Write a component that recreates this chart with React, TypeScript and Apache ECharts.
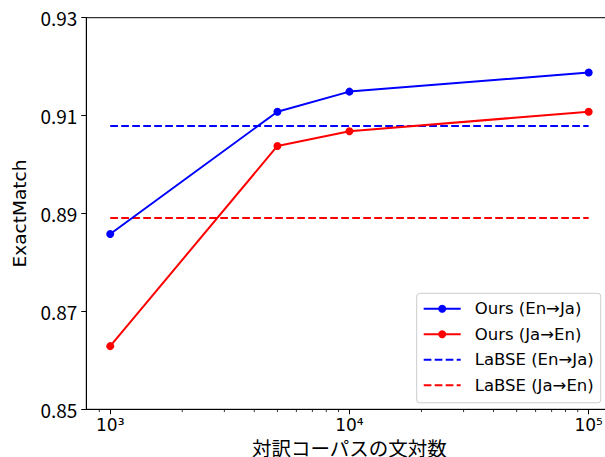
import React, { useEffect, useRef } from "react";
import * as echarts from "echarts";

const corpusSizes = [1000, 5000, 10000, 100000];
const oursEnJa = [0.8858, 0.9108, 0.9149, 0.9188];
const oursJaEn = [0.8629, 0.9038, 0.9068, 0.9108];
const labseEnJa = 0.9079;
const labseJaEn = 0.8891;
const yTicks = [0.85, 0.87, 0.89, 0.91, 0.93];
const xMajorTicks = [1000, 10000, 100000];
const xTickLabels = ["10³", "10⁴", "10⁵"];
const xMinorTicks = [
  900, 2000, 3000, 4000, 5000, 6000, 7000, 8000, 9000,
  20000, 30000, 40000, 50000, 60000, 70000, 80000, 90000,
];
const seriesNames = ["Ours (En→Ja)", "Ours (Ja→En)", "LaBSE (En→Ja)", "LaBSE (Ja→En)"];

const CJK = '"Noto Sans CJK JP", "DejaVu Sans", sans-serif';
const LAT = '"DejaVu Sans", sans-serif';
const X_MIN = Math.pow(10, 2.9);
const X_MAX = Math.pow(10, 5.1);
const Y_MIN = 0.85;
const Y_MAX = 0.93;

export default function App() {
  const ref = useRef<HTMLDivElement>(null);
  useEffect(() => {
    if (!ref.current) return;
    const chart = echarts.init(ref.current, undefined, { renderer: "svg" });
    const dash = [7.7, 3.3];
    const pairs = (ys: number[]) => corpusSizes.map((x, i) => [x, ys[i]]);
    const flat = (y: number) => [
      [corpusSizes[0], y],
      [corpusSizes[corpusSizes.length - 1], y],
    ];
    const labelFor = (v: number) => {
      const i = xMajorTicks.findIndex((t) => Math.abs(Math.log10(t) - Math.log10(v)) < 1e-6);
      return i >= 0 ? xTickLabels[i] : "";
    };
    chart.setOption({
      animation: false,
      backgroundColor: "#ffffff",
      grid: {
        left: 86.3,
        top: 17.7,
        width: 526.3,
        height: 391.6,
        show: true,
        borderColor: "#000000",
        borderWidth: 1,
        backgroundColor: "transparent",
        containLabel: false,
        outerBoundsMode: "none",
      },
      xAxis: {
        type: "log",
        logBase: 10,
        min: X_MIN,
        max: X_MAX,
        position: "bottom",
        name: "対訳コーパスの文対数",
        nameLocation: "middle",
        nameGap: 23.5,
        nameTextStyle: { fontFamily: CJK, fontSize: 19.5, color: "#000" },
        axisLine: { show: true, onZero: false, lineStyle: { color: "#000", width: 1 } },
        axisTick: {
          show: true,
          inside: false,
          length: 5,
          customValues: xMajorTicks,
          lineStyle: { color: "#000", width: 1 },
        },
        axisLabel: {
          show: true,
          margin: 7,
          customValues: xMajorTicks,
          fontFamily: LAT,
          fontSize: 17,
          color: "#000",
          formatter: (v: number) => labelFor(v),
        },
        splitLine: { show: false },
        minorTick: { show: false },
      },
      yAxis: {
        type: "value",
        min: Y_MIN,
        max: Y_MAX,
        name: "ExactMatch",
        nameLocation: "middle",
        nameGap: 52,
        nameRotate: 90,
        nameTextStyle: { fontFamily: LAT, fontSize: 18.5, color: "#000" },
        axisLine: { show: true, onZero: false, lineStyle: { color: "#000", width: 1 } },
        axisTick: {
          show: true,
          length: 5,
          customValues: yTicks,
          lineStyle: { color: "#000", width: 1 },
        },
        axisLabel: {
          show: true,
          margin: 9,
          customValues: yTicks,
          formatter: (v: number) => v.toFixed(2),
          fontFamily: CJK,
          fontSize: 19,
          color: "#000",
        },
        splitLine: { show: false },
      },
      legend: {
        orient: "vertical",
        left: 416.7,
        top: 293.3,
        padding: [7, 7, 9, 6],
        itemWidth: 37,
        itemHeight: 10,
        itemGap: 8.5,
        backgroundColor: "rgba(255,255,255,0.8)",
        borderColor: "#cccccc",
        borderWidth: 1,
        borderRadius: 3,
        textStyle: { fontFamily: LAT, fontSize: 16.5, color: "#000", padding: [0, 0, 0, 9] },
        data: [
          { name: seriesNames[0] },
          { name: seriesNames[1] },
          { name: seriesNames[2], itemStyle: { opacity: 0 } },
          { name: seriesNames[3], itemStyle: { opacity: 0 } },
        ],
      },
      series: [
        {
          name: seriesNames[2],
          type: "line",
          data: flat(labseEnJa),
          showSymbol: false,
          symbol: "circle",
          symbolSize: 0,
          lineStyle: { color: "#0000ff", width: 2, type: dash },
          itemStyle: { color: "#0000ff" },
          z: 2,
        },
        {
          name: seriesNames[3],
          type: "line",
          data: flat(labseJaEn),
          showSymbol: false,
          symbol: "circle",
          symbolSize: 0,
          lineStyle: { color: "#ff0000", width: 2, type: dash },
          itemStyle: { color: "#ff0000" },
          z: 2,
        },
        {
          name: seriesNames[0],
          type: "line",
          data: pairs(oursEnJa),
          symbol: "circle",
          symbolSize: 8,
          showSymbol: true,
          lineStyle: { color: "#0000ff", width: 2 },
          itemStyle: { color: "#0000ff" },
          z: 3,
        },
        {
          name: seriesNames[1],
          type: "line",
          data: pairs(oursJaEn),
          symbol: "circle",
          symbolSize: 8,
          showSymbol: true,
          lineStyle: { color: "#ff0000", width: 2 },
          itemStyle: { color: "#ff0000" },
          z: 3,
        },
        {
          name: "minorTicks",
          type: "custom",
          clip: false,
          silent: true,
          data: xMinorTicks.map((v) => [v, Y_MIN]),
          renderItem: (_params: any, api: any) => {
            const p = api.coord([api.value(0), api.value(1)]);
            return {
              type: "line",
              shape: { x1: p[0], y1: p[1], x2: p[0], y2: p[1] + 2.8 },
              style: { stroke: "#000", lineWidth: 0.8 },
            };
          },
          z: 4,
        },
      ],
    });
    return () => chart.dispose();
  }, []);
  return (
    <div
      ref={ref}
      style={{ position: "absolute", left: 0, top: 0, width: 605, height: 457, background: "#fff" }}
    />
  );
}
